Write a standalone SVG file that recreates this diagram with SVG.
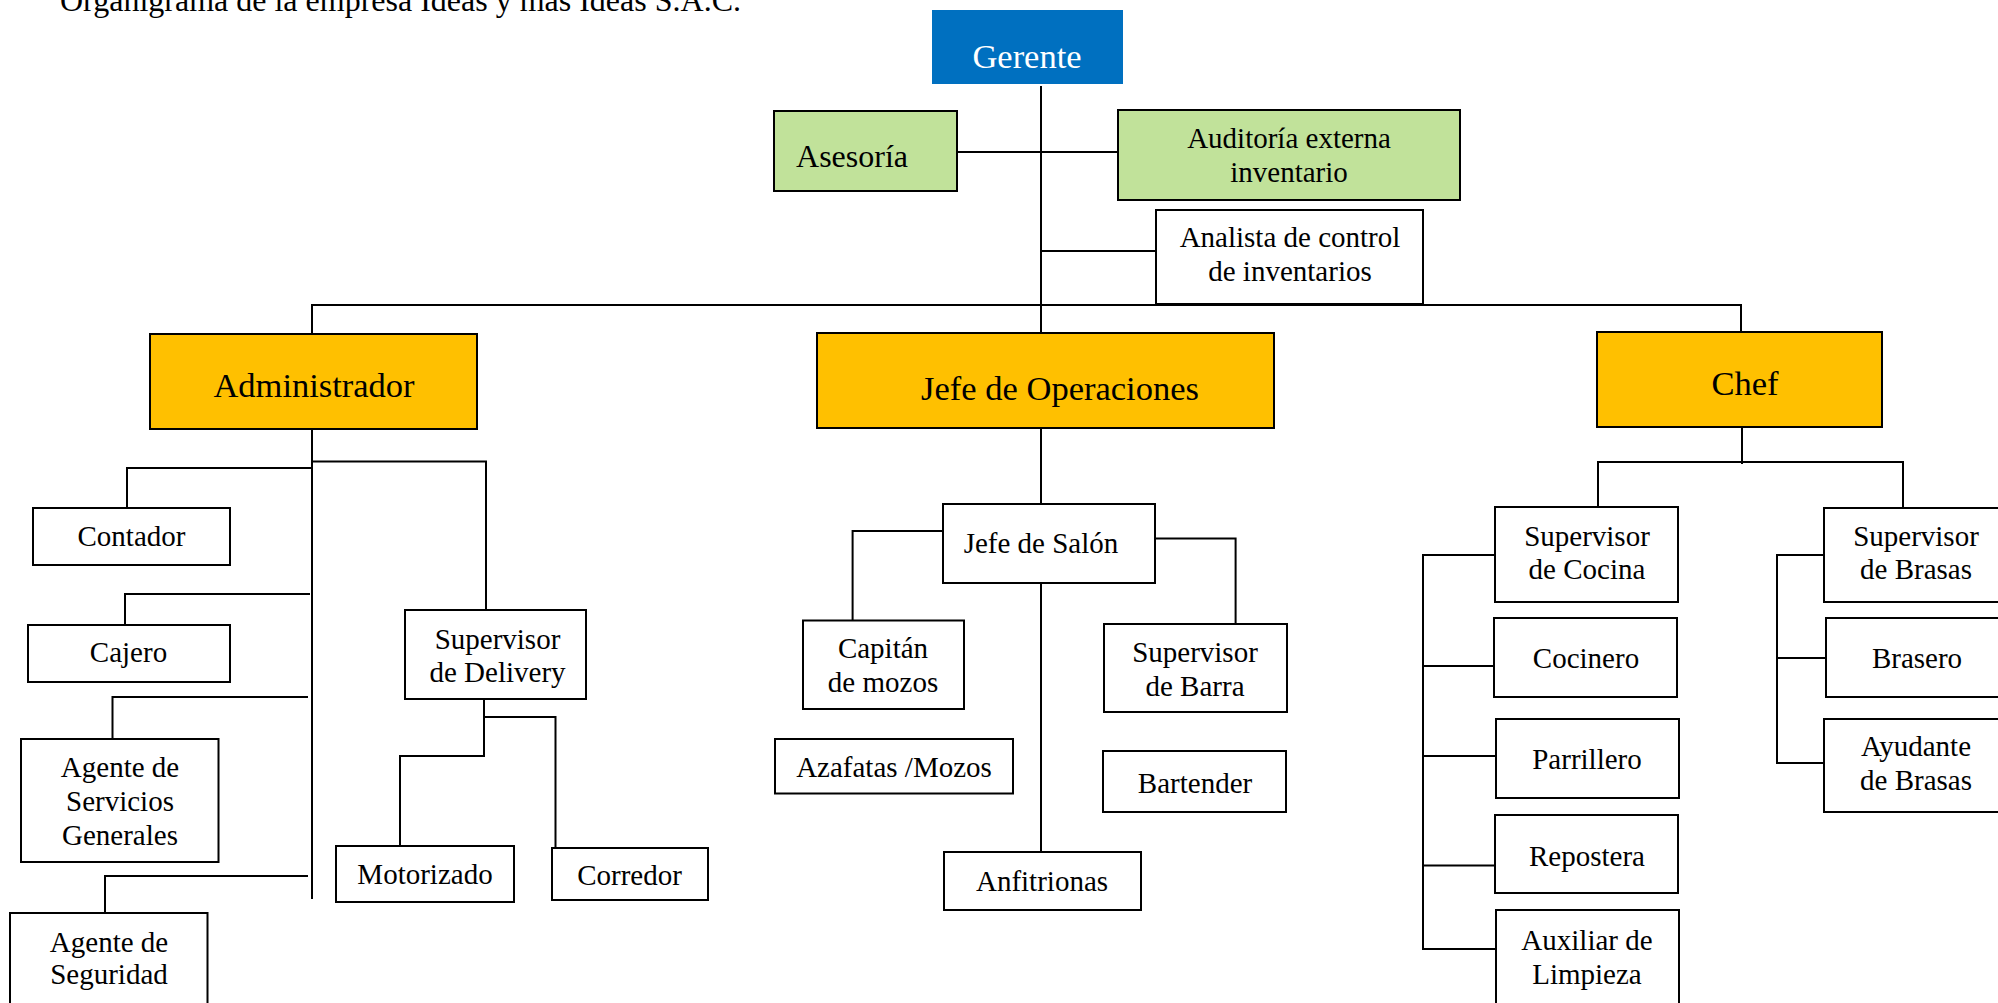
<svg xmlns="http://www.w3.org/2000/svg" width="1998" height="1003" viewBox="0 0 1998 1003">
<style>
text{font-family:"Liberation Serif","Times New Roman",serif;fill:#000;text-anchor:middle}
.b{stroke:#000;stroke-width:2;fill:#fff}
.g{fill:#C1E29A}
.o{fill:#FFC000}
.head{font-size:34.5px}
.t{font-size:29px}
#conn path,#conn line{stroke:#000;stroke-width:2;fill:none}
</style>
<rect width="1998" height="1003" fill="#fff"/>
<text x="60" y="11" style="font-size:32px;text-anchor:start">Organigrama de la empresa Ideas y mas Ideas S.A.C.</text>
<g id="conn">
<line x1="1041" y1="86" x2="1041" y2="333"/>
<line x1="957" y1="152" x2="1118" y2="152"/>
<line x1="1041" y1="251" x2="1156" y2="251"/>
<path d="M312 334 V305 H1741 V332"/>
<line x1="312" y1="429" x2="312" y2="899"/>
<path d="M312 461.5 H486 V610"/>
<path d="M312 468 H127 V508"/>
<path d="M310 594 H125 V624"/>
<path d="M308 697 H112.5 V739"/>
<path d="M308 876 H105 V912"/>
<path d="M484 699 V756 H400 V846"/>
<path d="M484 717 H555.5 V848"/>
<line x1="1041" y1="428" x2="1041" y2="504"/>
<path d="M943 531 H852.6 V620.5"/>
<path d="M1156 538.6 H1235.6 V624"/>
<line x1="1041" y1="583" x2="1041" y2="852"/>
<line x1="1742" y1="427" x2="1742" y2="464"/>
<path d="M1598 506 V462 H1903 V507"/>
<path d="M1495 555 H1423 V949 H1496"/>
<line x1="1423" y1="666" x2="1494" y2="666"/>
<line x1="1423" y1="756" x2="1496" y2="756"/>
<line x1="1423" y1="865.5" x2="1495" y2="865.5"/>
<path d="M1826 555 H1777 V763 H1824"/>
<line x1="1777" y1="658" x2="1826" y2="658"/>
</g>
<g id="gerente"><rect x="932" y="10" width="191" height="74" fill="#0070C0"/><text class="head" x="1027" y="68" style="fill:#fff">Gerente</text></g>
<g id="asesoria"><rect class="b g" x="774" y="111" width="183" height="80"/><text x="852" y="167" style="font-size:32px">Asesoría</text></g>
<g id="auditoria"><rect class="b g" x="1118" y="110" width="342" height="90"/><text class="t" x="1289" y="148">Auditoría externa</text><text class="t" x="1289" y="182">inventario</text></g>
<g id="analista"><rect class="b" x="1156" y="210" width="267" height="94"/><text class="t" x="1290" y="247">Analista de control</text><text class="t" x="1290" y="281">de inventarios</text></g>
<g id="administrador"><rect class="b o" x="150" y="334" width="327" height="95"/><text class="head" x="314" y="397">Administrador</text></g>
<g id="jefe-operaciones"><rect class="b o" x="817" y="333" width="457" height="95"/><text class="head" x="1060" y="400">Jefe de Operaciones</text></g>
<g id="chef"><rect class="b o" x="1597" y="332" width="285" height="95"/><text class="head" x="1745" y="395">Chef</text></g>
<g id="contador"><rect class="b" x="33" y="508" width="197" height="57"/><text class="t" x="131.5" y="546">Contador</text></g>
<g id="cajero"><rect class="b" x="28" y="625" width="202" height="57"/><text class="t" x="128.5" y="662">Cajero</text></g>
<g id="agente-servicios"><rect class="b" x="21" y="739" width="197.5" height="123"/><text class="t" x="120" y="777">Agente de</text><text class="t" x="120" y="811">Servicios</text><text class="t" x="120" y="845">Generales</text></g>
<g id="agente-seguridad"><rect class="b" x="10" y="913" width="197.5" height="100"/><text class="t" x="109" y="952">Agente de</text><text class="t" x="109" y="984">Seguridad</text></g>
<g id="supervisor-delivery"><rect class="b" x="405" y="610" width="181" height="89"/><text class="t" x="497.5" y="649">Supervisor</text><text class="t" x="497.5" y="682">de Delivery</text></g>
<g id="motorizado"><rect class="b" x="336" y="846" width="178" height="56"/><text class="t" x="425" y="884">Motorizado</text></g>
<g id="corredor"><rect class="b" x="552" y="848" width="156" height="52"/><text class="t" x="629.5" y="885">Corredor</text></g>
<g id="jefe-salon"><rect class="b" x="943" y="504" width="212" height="79"/><text class="t" x="1041" y="553">Jefe de Salón</text></g>
<g id="capitan"><rect class="b" x="803" y="620.5" width="161" height="88.5"/><text class="t" x="883" y="657.5">Capitán</text><text class="t" x="883" y="692">de mozos</text></g>
<g id="supervisor-barra"><rect class="b" x="1104" y="624" width="183" height="88"/><text class="t" x="1195" y="662">Supervisor</text><text class="t" x="1195" y="695.5">de Barra</text></g>
<g id="azafatas"><rect class="b" x="775" y="739" width="238" height="54.5"/><text class="t" x="894" y="776.5">Azafatas /Mozos</text></g>
<g id="bartender"><rect class="b" x="1103" y="751" width="183" height="61"/><text class="t" x="1195" y="792.5">Bartender</text></g>
<g id="anfitrionas"><rect class="b" x="944" y="852" width="197" height="58"/><text class="t" x="1042" y="890.5">Anfitrionas</text></g>
<g id="supervisor-cocina"><rect class="b" x="1495" y="507" width="183" height="95"/><text class="t" x="1587" y="546">Supervisor</text><text class="t" x="1587" y="579">de Cocina</text></g>
<g id="cocinero"><rect class="b" x="1494" y="618" width="183" height="79"/><text class="t" x="1586" y="668">Cocinero</text></g>
<g id="parrillero"><rect class="b" x="1496" y="719" width="183" height="79"/><text class="t" x="1587" y="768.5">Parrillero</text></g>
<g id="repostera"><rect class="b" x="1495" y="815" width="183" height="78"/><text class="t" x="1587" y="865.5">Repostera</text></g>
<g id="auxiliar-limpieza"><rect class="b" x="1496" y="910" width="183" height="110"/><text class="t" x="1587" y="950">Auxiliar de</text><text class="t" x="1587" y="984">Limpieza</text></g>
<g id="supervisor-brasas"><rect class="b" x="1824" y="508" width="190" height="94"/><text class="t" x="1916" y="546">Supervisor</text><text class="t" x="1916" y="579">de Brasas</text></g>
<g id="brasero"><rect class="b" x="1826" y="618" width="190" height="79"/><text class="t" x="1917" y="668">Brasero</text></g>
<g id="ayudante-brasas"><rect class="b" x="1824" y="719" width="190" height="93"/><text class="t" x="1916" y="756">Ayudante</text><text class="t" x="1916" y="790">de Brasas</text></g>
</svg>
